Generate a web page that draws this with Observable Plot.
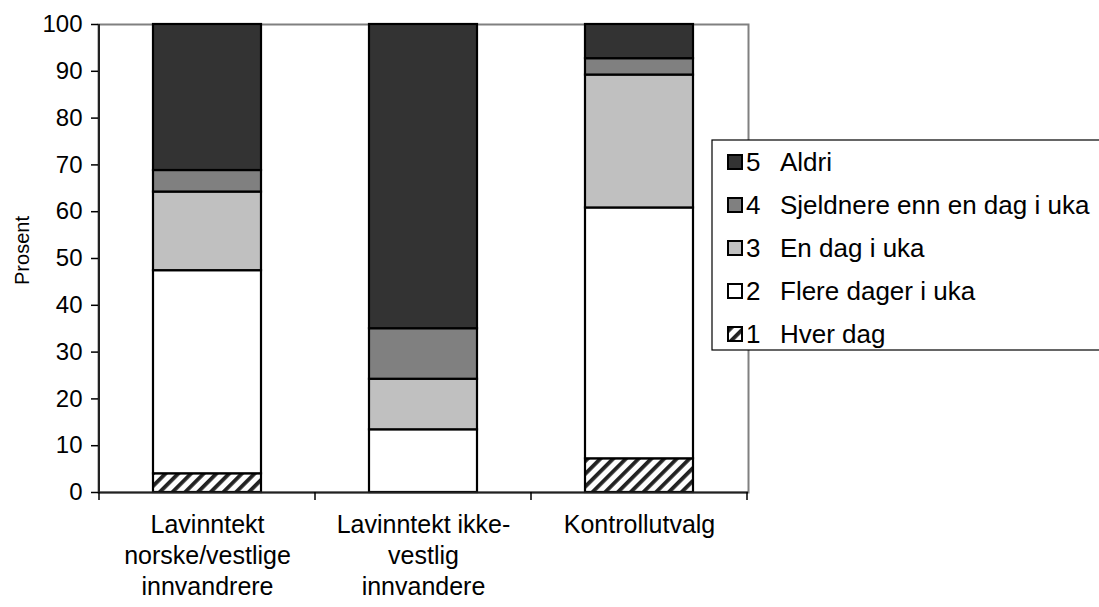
<!DOCTYPE html>
<html>
<head>
<meta charset="utf-8">
<script src="https://cdn.jsdelivr.net/npm/d3@7"></script>
<script src="https://cdn.jsdelivr.net/npm/@observablehq/plot@0.6"></script>
<style>
  html, body { margin: 0; padding: 0; background: #fff; }
  #chart svg { display: block; }
</style>
</head>
<body>
<div id="chart"></div>
<script>
const categories = ["Lavinntekt\nnorske/vestlige\ninnvandrere", "Lavinntekt ikke-\nvestlig\ninnvandere", "Kontrollutvalg"];
const seriesNames = ["1 Hver dag", "2 Flere dager i uka", "3 En dag i uka", "4 Sjeldnere enn en dag i uka", "5 Aldri"];
const seriesNumbers = ["1", "2", "3", "4", "5"];
const seriesLabels = ["Hver dag", "Flere dager i uka", "En dag i uka", "Sjeldnere enn en dag i uka", "Aldri"];
const hverDag    = [4.0, 0.0, 7.2];
const flereDager = [43.4, 13.4, 53.6];
const enDag      = [16.8, 10.8, 28.4];
const sjeldnere  = [4.6, 10.8, 3.5];
const aldri      = [31.2, 65.0, 7.3];
const yTicks = [0, 10, 20, 30, 40, 50, 60, 70, 80, 90, 100];
const seriesFills = ["url(#hatch)", "#ffffff", "#c0c0c0", "#808080", "#333333"];

const seriesValues = [hverDag, flereDager, enDag, sjeldnere, aldri];
const data = [];
categories.forEach((c, i) => {
  seriesNames.forEach((s, j) => {
    data.push({category: c, series: s, value: seriesValues[j][i]});
  });
});

const W = 1099, H = 607;
const font = "'Liberation Sans', Arial, sans-serif";

const plot = Plot.plot({
  width: W,
  height: H,
  marginLeft: 98,
  marginRight: 351,
  marginTop: 24,
  marginBottom: 115,
  style: {fontFamily: font, fontSize: "24px", color: "#000", background: "#fff"},
  x: {domain: categories, paddingInner: 0.5, paddingOuter: 0.25, label: null},
  y: {domain: [0, 100], label: null},
  color: {domain: seriesNames, range: seriesFills},
  marks: [
    Plot.frame({stroke: "#808080", strokeWidth: 2}),
    Plot.barY(data, Plot.stackY({order: seriesNames}, {
      x: "category", y: "value", z: "series", fill: "series",
      stroke: "#000", strokeWidth: 2.2
    })),
    Plot.axisY({ticks: yTicks, tickSize: 7, tickPadding: 9, tickFormat: d => String(d), fontSize: 24, stroke: "#000", strokeWidth: 1.5}),
    Plot.axisX({tickSize: 0, tickPadding: 18, lineHeight: 1.24, fontSize: 25}),
    Plot.ruleY([0], {stroke: "#222", strokeWidth: 2}),
    Plot.text(["Prosent"], {frameAnchor: "left", textAnchor: "middle", dx: -76, dy: -8, rotate: -90, fontSize: 20, fill: "#000"})
  ]
});

document.getElementById("chart").appendChild(plot);

const svg = d3.select(plot);
// hatch pattern
const defs = svg.insert("defs", ":first-child");
const pat = defs.append("pattern")
  .attr("id", "hatch")
  .attr("patternUnits", "userSpaceOnUse")
  .attr("width", 9).attr("height", 9)
  .attr("patternTransform", "rotate(45)");
pat.append("rect").attr("width", 9).attr("height", 9).attr("fill", "#fff");
pat.append("rect").attr("width", 3.8).attr("height", 9).attr("fill", "#222");

const xs = plot.scale("x");
const ys = plot.scale("y");
const y0 = ys.apply(0), y100 = ys.apply(100);
const gap = (xs.step - xs.bandwidth) / 2;
const tickXs = categories.map(c => xs.apply(c) - gap);
tickXs.push(xs.apply(categories[categories.length - 1]) + xs.bandwidth + gap);

// y axis line
svg.append("line").attr("x1", tickXs[0]).attr("x2", tickXs[0]).attr("y1", y100).attr("y2", y0)
  .attr("stroke", "#222").attr("stroke-width", 2);
// x tick marks between categories
svg.append("g").selectAll("line").data(tickXs).join("line")
  .attr("x1", d => d).attr("x2", d => d)
  .attr("y1", y0).attr("y2", y0 + 8)
  .attr("stroke", "#000").attr("stroke-width", 1.5);

// legend
const lg = svg.append("g").attr("font-family", font).attr("font-size", 26).attr("text-anchor", "start");
lg.append("rect").attr("x", 712).attr("y", 140).attr("width", 400).attr("height", 210)
  .attr("fill", "#fff").attr("stroke", "#000").attr("stroke-width", 1.2);
const order = [4, 3, 2, 1, 0];
order.forEach((j, k) => {
  const cy = 162 + k * 43;
  lg.append("rect").attr("x", 728).attr("y", cy - 7).attr("width", 14).attr("height", 14)
    .attr("fill", seriesFills[j]).attr("stroke", "#000").attr("stroke-width", 2);
  lg.append("text").attr("x", 746).attr("y", cy).attr("dy", "0.35em").text(seriesNumbers[j]);
  lg.append("text").attr("x", 780).attr("y", cy).attr("dy", "0.35em").text(seriesLabels[j]);
});
</script>
</body>
</html>
